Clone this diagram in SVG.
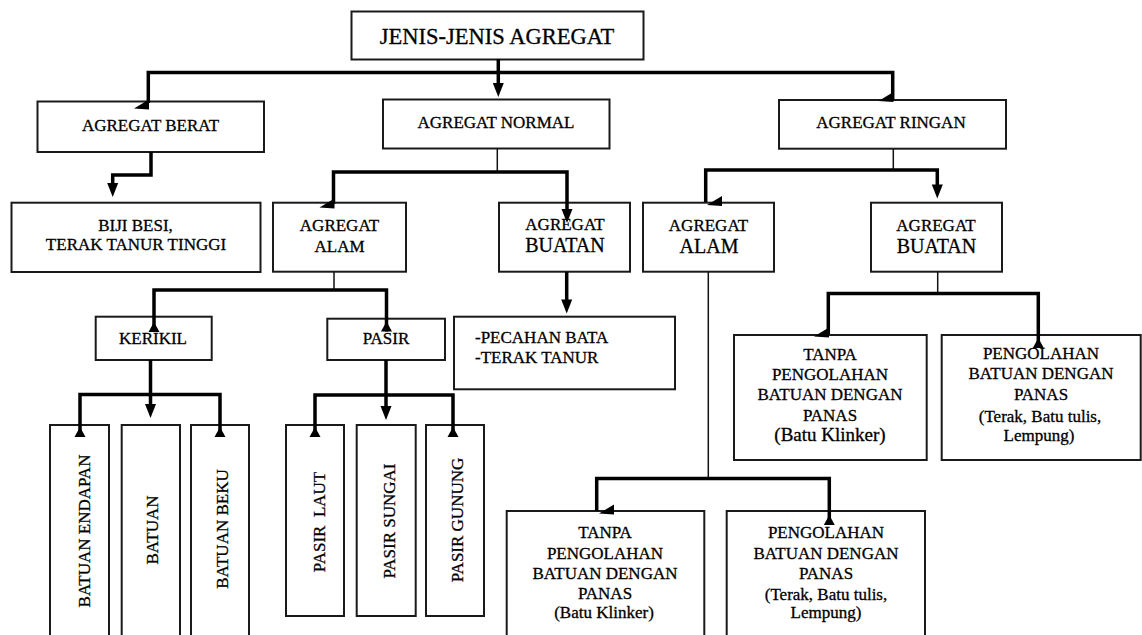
<svg xmlns="http://www.w3.org/2000/svg" xmlns:xlink="http://www.w3.org/1999/xlink" width="1142" height="635" viewBox="0 0 1142 635">
<style>
.box{fill:#fff;stroke:#1a1a1a;stroke-width:2}
.t{font-family:"Liberation Serif","Times New Roman",Tinos,serif;font-size:17px;fill:#000;stroke:#000;stroke-width:0.3;text-anchor:middle}
.l{text-anchor:start}
.big{font-size:20px}
.kl{font-size:19px}
.title{font-size:22.5px}
.thick{fill:none;stroke:#000;stroke-width:3.5;stroke-linejoin:miter;stroke-linecap:butt}
.thin{fill:none;stroke:#111;stroke-width:1.5}
.ah{fill:#000}
</style>
<defs>
<path id="ad" d="M-5.5,-14 L5.5,-14 L0,0 Z"/>
<path id="au" d="M0,0 L5.5,10 L-5.5,10 Z"/>
<path id="al" d="M0,-9 L0,1 L-15,0 Z"/>
</defs>
<rect width="1142" height="635" fill="#fff"/>

<g id="n-title"><rect class="box" x="351.5" y="11.5" width="292" height="48"/><text class="t title" x="497" y="43.5">JENIS-JENIS AGREGAT</text></g>
<g id="n-berat"><rect class="box" x="37.5" y="101.5" width="226.5" height="50.5"/><text class="t" x="150.5" y="130.5">AGREGAT BERAT</text></g>
<g id="n-normal"><rect class="box" x="383" y="99.5" width="226.5" height="49"/><text class="t" x="496" y="127.5">AGREGAT NORMAL</text></g>
<g id="n-ringan"><rect class="box" x="779" y="100" width="227" height="48.7"/><text class="t" x="891" y="127.5">AGREGAT RINGAN</text></g>

<g id="n-biji"><rect class="box" x="11.5" y="202.7" width="249" height="69.3"/><text class="t" x="135.5" y="230.5">BIJI BESI,</text><text class="t" x="136" y="250">TERAK TANUR TINGGI</text></g>
<g id="n-alam-n"><rect class="box" x="273" y="202.7" width="133" height="69"/><text class="t" x="339.5" y="230.5">AGREGAT</text><text class="t" x="339.5" y="251.5">ALAM</text></g>
<g id="n-buatan-n"><rect class="box" x="499" y="202.7" width="131" height="69"/><text class="t" x="565" y="230">AGREGAT</text><text class="t big" x="565" y="252">BUATAN</text></g>
<g id="n-alam-r"><rect class="box" x="643" y="202.7" width="131" height="69"/><text class="t" x="708.5" y="230.5">AGREGAT</text><text class="t big" x="709" y="252.5">ALAM</text></g>
<g id="n-buatan-r"><rect class="box" x="871" y="202.7" width="131" height="69"/><text class="t" x="936" y="230.5">AGREGAT</text><text class="t big" x="936.5" y="252.5">BUATAN</text></g>

<g id="n-kerikil"><rect class="box" x="95.7" y="316.7" width="116" height="43.3"/><text class="t" x="153" y="344">KERIKIL</text></g>
<g id="n-pasir"><rect class="box" x="327.3" y="318.7" width="117.7" height="41.3"/><text class="t" x="386" y="344">PASIR</text></g>
<g id="n-pecahan"><rect class="box" x="454" y="316.7" width="221" height="72.6"/><text class="t l" x="475" y="343.3">-PECAHAN BATA</text><text class="t l" x="475" y="363.3">-TERAK TANUR</text></g>

<g id="n-tanpa-r"><rect class="box" x="734" y="335" width="192.7" height="125"/>
<text class="t" x="830" y="360">TANPA</text><text class="t" x="830" y="380">PENGOLAHAN</text><text class="t" x="830" y="400">BATUAN DENGAN</text><text class="t" x="830" y="421">PANAS</text><text class="t kl" x="830" y="441">(Batu Klinker)</text></g>
<g id="n-peng-r"><rect class="box" x="941.7" y="335" width="199" height="125"/>
<text class="t" x="1041" y="359">PENGOLAHAN</text><text class="t" x="1041" y="379">BATUAN DENGAN</text><text class="t" x="1041" y="400">PANAS</text><text class="t" x="1040" y="422">(Terak, Batu tulis,</text><text class="t" x="1039" y="441">Lempung)</text></g>

<g id="n-tanpa-a"><rect class="box" x="506.7" y="511" width="197.6" height="130"/>
<text class="t" x="605" y="538">TANPA</text><text class="t" x="605" y="558.5">PENGOLAHAN</text><text class="t" x="605" y="578.5">BATUAN DENGAN</text><text class="t" x="605" y="598.5">PANAS</text><text class="t" x="604" y="617.5">(Batu Klinker)</text></g>
<g id="n-peng-a"><rect class="box" x="726.7" y="511" width="198.3" height="130"/>
<text class="t" x="826" y="538">PENGOLAHAN</text><text class="t" x="826" y="558.5">BATUAN DENGAN</text><text class="t" x="826" y="578.5">PANAS</text><text class="t" x="826" y="599.5">(Terak, Batu tulis,</text><text class="t" x="826" y="617.5">Lempung)</text></g>

<g id="n-batuan-endapan"><rect class="box" x="50" y="425" width="59" height="215"/><text class="t" x="90" y="531" transform="rotate(-90 90 531)">BATUAN ENDAPAN</text></g>
<g id="n-batuan"><rect class="box" x="121.7" y="425" width="58.3" height="215"/><text class="t" x="158" y="530" transform="rotate(-90 158 530)">BATUAN</text></g>
<g id="n-batuan-beku"><rect class="box" x="191" y="425" width="58" height="215"/><text class="t" x="228" y="529" transform="rotate(-90 228 529)">BATUAN BEKU</text></g>
<g id="n-pasir-laut"><rect class="box" x="286" y="425" width="58" height="191"/><text class="t" x="325" y="522" transform="rotate(-90 325 522)" xml:space="preserve">PASIR  LAUT</text></g>
<g id="n-pasir-sungai"><rect class="box" x="356.7" y="425" width="59" height="191"/><text class="t" x="395" y="521" transform="rotate(-90 395 521)">PASIR SUNGAI</text></g>
<g id="n-pasir-gunung"><rect class="box" x="426" y="425" width="58" height="191"/><text class="t" x="463" y="520" transform="rotate(-90 463 520)">PASIR GUNUNG</text></g>

<g id="connectors">
<polyline class="thick" points="498.3,59 498.3,85"/>
<polyline class="thick" points="148.3,103 148.3,72.5 892.7,72.5 892.7,100"/>
<polyline class="thick" points="151,152 151,175 112.7,175 112.7,185"/>
<polyline class="thin" points="497.3,148.5 497.3,172"/>
<polyline class="thick" points="333.5,204 333.5,172 567,172 567,211"/>
<polyline class="thin" points="893.3,148.7 893.3,170"/>
<polyline class="thick" points="705.7,202 705.7,170 937.3,170 937.3,186"/>
<polyline class="thin" points="334,272 334,290"/>
<polyline class="thick" points="154,332 154,290 386.5,290 386.5,331.5"/>
<polyline class="thick" points="566.7,272 566.7,301"/>
<polyline class="thin" points="708.3,272 708.3,478.5"/>
<polyline class="thick" points="596.7,511 596.7,478.5 829.3,478.5 829.3,525"/>
<polyline class="thin" points="937.7,272 937.7,293.5"/>
<polyline class="thick" points="828.3,334 828.3,293.5 1038.3,293.5 1038.3,348"/>
<polyline class="thick" points="150.5,360 150.5,406"/>
<polyline class="thick" points="80,435 80,394.5 220,394.5 220,435"/>
<polyline class="thick" points="386,360 386,408"/>
<polyline class="thick" points="315,436 315,395 453,395 453,436"/>

<use xlink:href="#ad" class="ah" x="498.3" y="97"/>
<use xlink:href="#ad" class="ah" x="112.7" y="197"/>
<use xlink:href="#ad" class="ah" x="567" y="223"/>
<use xlink:href="#ad" class="ah" x="937.3" y="198.5"/>
<use xlink:href="#ad" class="ah" x="566.7" y="313.5"/>
<use xlink:href="#ad" class="ah" x="150.5" y="418"/>
<use xlink:href="#ad" class="ah" x="386" y="420"/>

<use xlink:href="#au" class="ah" x="154" y="322"/>
<use xlink:href="#au" class="ah" x="386.5" y="321.5"/>
<use xlink:href="#au" class="ah" x="80" y="427"/>
<use xlink:href="#au" class="ah" x="220" y="427"/>
<use xlink:href="#au" class="ah" x="315" y="427"/>
<use xlink:href="#au" class="ah" x="453" y="427"/>
<use xlink:href="#au" class="ah" x="1038.3" y="338"/>
<use xlink:href="#au" class="ah" x="829.3" y="515"/>

<use xlink:href="#al" class="ah" x="149" y="108.5"/>
<use xlink:href="#al" class="ah" x="893.5" y="101"/>
<use xlink:href="#al" class="ah" x="334.5" y="207.5"/>
<use xlink:href="#al" class="ah" x="722" y="205"/>
<use xlink:href="#al" class="ah" x="829" y="336.5"/>
<use xlink:href="#al" class="ah" x="614" y="513.5"/>
</g>
</svg>
